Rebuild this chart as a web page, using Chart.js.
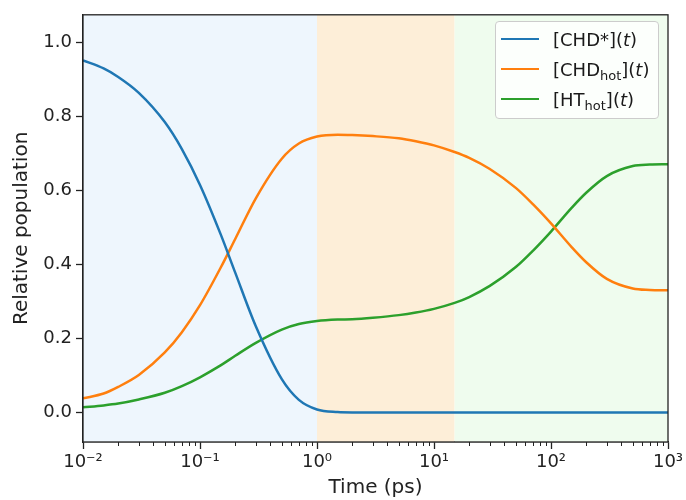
<!DOCTYPE html>
<html lang="en">
<head>
<meta charset="utf-8">
<title>Relative population</title>
<script src="https://cdn.jsdelivr.net/npm/chart.js@4.4.1/dist/chart.umd.min.js"></script>
<style>
    html, body { margin: 0; padding: 0; background: #fff; }
    #grafico { position: relative; width: 686px; height: 500px; }
    #legenda {
        position: absolute; left: 495px; top: 21px; width: 164px; height: 98px;
        box-sizing: border-box; padding-top: 2px;
        background: rgba(255, 255, 255, 0.8); border: 1px solid #cccccc; border-radius: 4px;
        font-family: "DejaVu Sans", sans-serif; font-size: 18px; color: #1a1a1a;
    }
    .item { display: flex; align-items: center; height: 30px; white-space: nowrap; }
    .amostra { width: 38px; height: 0; border-top: 2.5px solid; margin-left: 5px; margin-right: 14px; }
    #legenda sub { font-size: 13px; vertical-align: -4px; line-height: 0; }
</style>
</head>
<body>
<div id="grafico">
    <canvas id="populacaoChart" width="686" height="500"></canvas>
    <div id="legenda"></div>
</div>
<script>
// Dados (tempo em ps, escala log)
const tempos = [0.01, 0.015, 0.02, 0.03, 0.05, 0.07, 0.1, 0.15, 0.2, 0.3, 0.5, 0.7, 1, 1.5, 2, 3, 5, 7, 10, 15, 20, 30, 50, 70, 100, 150, 200, 300, 500, 700, 1000];
const popCHDExc = [0.952, 0.930, 0.907, 0.864, 0.785, 0.712, 0.615, 0.482, 0.378, 0.233, 0.090, 0.034, 0.008, 0.001, 0, 0, 0, 0, 0, 0, 0, 0, 0, 0, 0, 0, 0, 0, 0, 0, 0];
const popCHDHot = [0.038, 0.051, 0.069, 0.101, 0.162, 0.217, 0.290, 0.391, 0.469, 0.579, 0.686, 0.727, 0.746, 0.751, 0.750, 0.747, 0.741, 0.733, 0.722, 0.704, 0.688, 0.658, 0.607, 0.563, 0.511, 0.447, 0.406, 0.361, 0.335, 0.331, 0.330];
const popHTHot = [0.014, 0.019, 0.024, 0.035, 0.053, 0.071, 0.095, 0.127, 0.153, 0.188, 0.224, 0.239, 0.247, 0.251, 0.252, 0.256, 0.263, 0.270, 0.280, 0.296, 0.312, 0.342, 0.393, 0.437, 0.489, 0.553, 0.594, 0.639, 0.666, 0.670, 0.671];

const rotulos = ["[CHD*](t)", "[CHDhot](t)", "[HThot](t)"];
const legendasHtml = ["[CHD*](<i>t</i>)", "[CHD<sub>hot</sub>](<i>t</i>)", "[HT<sub>hot</sub>](<i>t</i>)"];

const ticksX = [0.01, 0.1, 1, 10, 100, 1000];
const ticksY = [0, 0.2, 0.4, 0.6, 0.8, 1.0];

// Faixas de tempo sombreadas
const regioes = [[0.01, 1], [1, 15], [15, 1000]];
const coresRegioes = ["#eef6fd", "#fdeed8", "#effcee"];

const FONTE = "'DejaVu Sans', sans-serif";
const COR_EIXO = "#222222";

document.addEventListener("DOMContentLoaded", () => {
    criarGrafico();
});

// 10^n com sobrescrito
function formatarPotencia(valor) {
    const sobrescritos = { "-": "⁻", "0": "⁰", "1": "¹", "2": "²", "3": "³", "4": "⁴" };
    const expoente = String(Math.round(Math.log10(valor)));
    return "10" + expoente.split("").map(c => sobrescritos[c]).join("");
}

// Pinta as faixas de fundo
const pluginFundo = {
    id: "fundo",
    beforeDatasetsDraw(chart) {
        const { ctx, chartArea, scales: { x } } = chart;
        ctx.save();
        regioes.forEach((r, i) => {
            const x0 = x.getPixelForValue(r[0]);
            const x1 = x.getPixelForValue(r[1]);
            ctx.fillStyle = coresRegioes[i];
            ctx.fillRect(x0, chartArea.top, x1 - x0, chartArea.bottom - chartArea.top);
        });
        ctx.restore();
    }
};

// Moldura e ticks menores do eixo log
const pluginMoldura = {
    id: "moldura",
    afterDatasetsDraw(chart) {
        const { ctx, chartArea: a, scales: { x } } = chart;
        ctx.save();
        ctx.strokeStyle = COR_EIXO;
        ctx.lineWidth = 1.3;
        ctx.strokeRect(a.left, a.top, a.right - a.left, a.bottom - a.top);
        ctx.lineWidth = 1;
        for (let d = -2; d < 3; d++) {
            for (let m = 2; m < 10; m++) {
                const px = Math.round(x.getPixelForValue(m * Math.pow(10, d))) + 0.5;
                ctx.beginPath();
                ctx.moveTo(px, a.bottom);
                ctx.lineTo(px, a.bottom + 4);
                ctx.stroke();
            }
        }
        ctx.restore();
    }
};

function criarLegenda(grafico) {
    document.getElementById("legenda").innerHTML = grafico.data.datasets.map((ds, i) => `
        <div class="item">
            <span class="amostra" style="border-color:${ds.borderColor}"></span>
            <span>${legendasHtml[i]}</span>
        </div>
    `).join("");
}

function criarGrafico() {
    const ctx = document.getElementById("populacaoChart");
    if (!ctx) return;

    const serie = (label, dados, cor) => ({
        label: label,
        data: tempos.map((t, i) => ({ x: t, y: dados[i] })),
        borderColor: cor,
        backgroundColor: cor,
        borderWidth: 2.5,
        pointRadius: 0,
        cubicInterpolationMode: "monotone",
        fill: false
    });

    const grafico = new Chart(ctx.getContext("2d"), {
        type: "line",
        data: {
            datasets: [
                serie(rotulos[0], popCHDExc, "#1f77b4"),
                serie(rotulos[1], popCHDHot, "#ff7f0e"),
                serie(rotulos[2], popHTHot, "#2ca02c")
            ]
        },
        options: {
            responsive: false,
            animation: false,
            layout: { padding: { top: 12, right: 18, left: 0, bottom: 0 } },
            plugins: {
                legend: { display: false },
                tooltip: { enabled: false }
            },
            scales: {
                x: {
                    type: "logarithmic",
                    min: 0.01,
                    max: 1000,
                    afterBuildTicks: s => { s.ticks = ticksX.map(v => ({ value: v })); },
                    afterFit: s => { s.height = 58; s.paddingLeft = 0; s.paddingRight = 0; },
                    ticks: {
                        callback: formatarPotencia,
                        autoSkip: false,
                        maxRotation: 0,
                        padding: 3,
                        color: COR_EIXO,
                        font: { family: FONTE, size: 18 }
                    },
                    grid: { drawOnChartArea: false, tickLength: 7, tickColor: COR_EIXO, tickWidth: 1.3 },
                    border: { color: COR_EIXO, width: 1.3 },
                    title: {
                        display: true,
                        text: "Time (ps)",
                        color: COR_EIXO,
                        font: { family: FONTE, size: 20 },
                        padding: { top: 0, bottom: 0 }
                    }
                },
                y: {
                    min: -0.08,
                    max: 1.075,
                    afterBuildTicks: s => { s.ticks = ticksY.map(v => ({ value: v })); },
                    afterFit: s => { s.width = 83; },
                    ticks: {
                        callback: v => Number(v).toFixed(1),
                        padding: 4,
                        color: COR_EIXO,
                        font: { family: FONTE, size: 18 }
                    },
                    grid: { drawOnChartArea: false, tickLength: 7, tickColor: COR_EIXO, tickWidth: 1.3 },
                    border: { color: COR_EIXO, width: 1.3 },
                    title: {
                        display: true,
                        text: "Relative population",
                        color: COR_EIXO,
                        font: { family: FONTE, size: 20 },
                        padding: { top: 10, bottom: 0 }
                    }
                }
            }
        },
        plugins: [pluginFundo, pluginMoldura]
    });

    criarLegenda(grafico);
}
</script>
</body>
</html>
